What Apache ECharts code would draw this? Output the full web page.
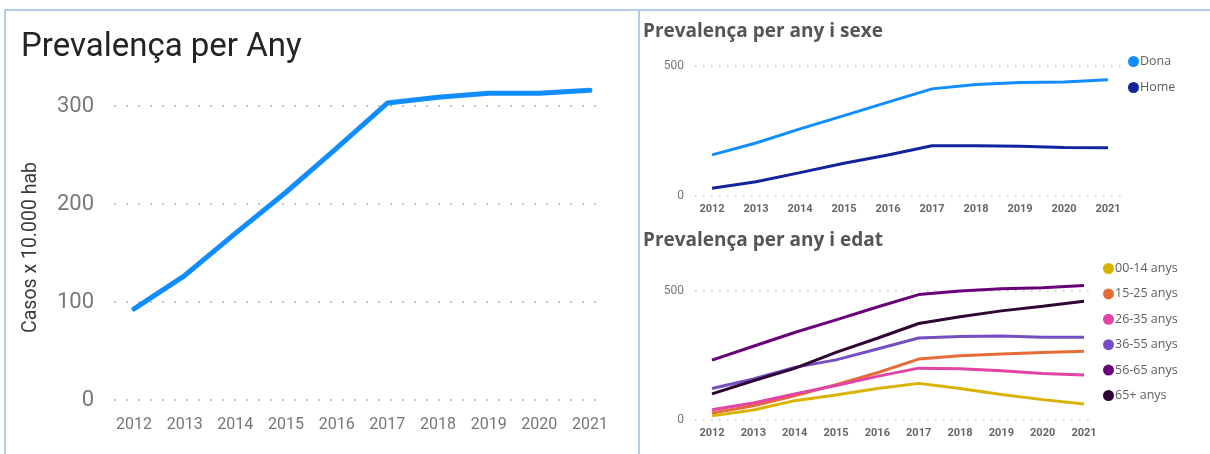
<!DOCTYPE html>
<html>
<head>
<meta charset="utf-8">
<script src="https://cdn.jsdelivr.net/npm/echarts@6/dist/echarts.min.js"></script>
<style>
html,body{margin:0;padding:0;background:#fff;}
#c{width:1210px;height:454px;}
</style>
</head>
<body>
<div id="c"></div>
<script>
const years = ['2012','2013','2014','2015','2016','2017','2018','2019','2020','2021'];
const totalPrev = [93, 127, 170, 212, 257, 303, 309, 313, 313, 316];
const dona = [158, 204, 258, 309, 361, 412, 429, 437, 438, 447];
const home = [30, 55, 90, 126, 158, 193, 193, 191, 187, 186];
const ageGroups = ['00-14 anys','15-25 anys','26-35 anys','36-55 anys','56-65 anys','65+ anys'];
const age0014 = [16, 39, 75, 97, 122, 142, 122, 99, 79, 62];
const age1525 = [27, 55, 94, 137, 183, 236, 249, 256, 262, 266];
const age2635 = [40, 66, 101, 134, 169, 201, 199, 191, 180, 174];
const age3655 = [122, 159, 204, 233, 275, 318, 324, 326, 321, 321];
const age5665 = [232, 286, 339, 388, 438, 486, 500, 509, 513, 521];
const age65p = [101, 152, 200, 262, 317, 374, 400, 423, 441, 460];
const leftTicks = [0, 100, 200, 300];
const rightTicks = [0, 500];

const ageData = [age0014, age1525, age2635, age3655, age5665, age65p];
const ageColors = ['#D9B300', '#E66C37', '#E044A7', '#744EC2', '#6B007B', '#2E0533'];

const chart = echarts.init(document.getElementById('c'));

function gridLineAxis(gi, max, interval, fs, dash, width, labelMargin, color) {
  return {
    gridIndex: gi, type: 'value', min: 0, max: max, interval: interval,
    axisLine: {show: false}, axisTick: {show: false},
    axisLabel: {fontFamily: 'Roboto', fontSize: fs, color: color, margin: labelMargin},
    splitLine: {show: true, lineStyle: {type: dash, color: '#c6c6c6', width: width}}
  };
}
function hiddenY(gi, max) {
  return {gridIndex: gi, type: 'value', min: 0, max: max, show: false, splitLine: {show: false}};
}
function hiddenX(gi) {
  return {gridIndex: gi, type: 'value', min: 0, max: 1, show: false, splitLine: {show: false}};
}
function catX(gi, fs, margin, weight, color) {
  return {
    gridIndex: gi, type: 'category', data: years, boundaryGap: false,
    axisLine: {show: false}, axisTick: {show: false}, splitLine: {show: false},
    axisLabel: {fontFamily: 'Roboto', fontSize: fs, color: color, margin: margin, fontWeight: weight, interval: 0}
  };
}

const series = [];
series.push({
  name: 'Prevalença', type: 'line', xAxisIndex: 1, yAxisIndex: 1, data: totalPrev,
  symbol: 'none', clip: false, lineStyle: {width: 5, color: '#118DFF', cap: 'round', join: 'round'},
  itemStyle: {color: '#118DFF'}
});
series.push({
  name: 'Dona', type: 'line', xAxisIndex: 3, yAxisIndex: 3, data: dona,
  symbol: 'circle', showSymbol: false, clip: false, lineStyle: {width: 3, color: '#118DFF'}, itemStyle: {color: '#118DFF'}
});
series.push({
  name: 'Home', type: 'line', xAxisIndex: 3, yAxisIndex: 3, data: home,
  symbol: 'circle', showSymbol: false, clip: false, lineStyle: {width: 3, color: '#12239E'}, itemStyle: {color: '#12239E'}
});
ageGroups.forEach((g, i) => {
  series.push({
    name: g, type: 'line', xAxisIndex: 5, yAxisIndex: 5, data: ageData[i],
    symbol: 'circle', showSymbol: false, clip: false,
    lineStyle: {width: 3, color: ageColors[i]}, itemStyle: {color: ageColors[i]}
  });
});

chart.setOption({
  animation: false,
  title: [
    {text: 'Prevalença per Any', left: 21, top: 31, padding: 0,
     textStyle: {fontFamily: 'Roboto', fontSize: 33, fontWeight: 'normal', color: '#252423'}},
    {text: 'Prevalença per any i sexe', left: 643, top: 22, padding: 0,
     textStyle: {fontFamily: 'Open Sans', fontSize: 19, fontWeight: 'bold', color: '#555555'}},
    {text: 'Prevalença per any i edat', left: 643, top: 231, padding: 0,
     textStyle: {fontFamily: 'Open Sans', fontSize: 19, fontWeight: 'bold', color: '#555555'}}
  ],
  grid: [
    {left: 114, top: 106, width: 492, height: 294},
    {left: 134, top: 106, width: 456, height: 294},
    {left: 695, top: 66, width: 430, height: 130},
    {left: 712, top: 66, width: 396, height: 130},
    {left: 695, top: 291, width: 400, height: 129},
    {left: 712, top: 291, width: 372, height: 129}
  ],
  xAxis: [hiddenX(0), catX(1, 16, 17, 'normal', '#777777'), hiddenX(2), catX(3, 11, 8, 'bold', '#666666'), hiddenX(4), catX(5, 11, 8, 'bold', '#666666')],
  yAxis: [
    gridLineAxis(0, leftTicks[leftTicks.length-1], 100, 22, [2, 10], 2, 20, '#7a7a7a'),
    hiddenY(1, leftTicks[leftTicks.length-1]),
    gridLineAxis(2, rightTicks[1], 500, 12, [1.5, 6.5], 1.5, 11, '#777777'),
    hiddenY(3, rightTicks[1]),
    gridLineAxis(4, rightTicks[1], 500, 12, [1.5, 6.5], 1.5, 11, '#777777'),
    hiddenY(5, rightTicks[1])
  ],
  legend: [
    {data: ['Dona', 'Home'], orient: 'vertical', left: 1128, top: 55, icon: 'circle',
     itemWidth: 11, itemHeight: 11, itemGap: 13, padding: 0,
     textStyle: {fontFamily: 'Open Sans', fontSize: 12.5, color: '#605E5C', padding: [0,0,0,-4]}},
    {data: ageGroups, orient: 'vertical', left: 1103, top: 262, icon: 'circle',
     itemWidth: 11, itemHeight: 11, itemGap: 12.4, padding: 0,
     textStyle: {fontFamily: 'Open Sans', fontSize: 12.5, color: '#605E5C', padding: [0,0,0,-4]}}
  ],
  graphic: [
    {type: 'line', shape: {x1: 5, y1: 10, x2: 1210, y2: 10}, style: {stroke: '#B3CCEA', lineWidth: 2}},
    {type: 'line', shape: {x1: 5, y1: 10, x2: 5, y2: 454}, style: {stroke: '#B3CCEA', lineWidth: 2}},
    {type: 'line', shape: {x1: 639, y1: 10, x2: 639, y2: 454}, style: {stroke: '#B3CCEA', lineWidth: 2}},
    {type: 'text', left: 21, top: 162, rotation: Math.PI / 2,
     style: {text: 'Casos x 10.000 hab', fontFamily: 'Roboto', fontSize: 19.5, fill: '#3a3a3a'}}
  ],
  series: series
});
</script>
</body>
</html>
